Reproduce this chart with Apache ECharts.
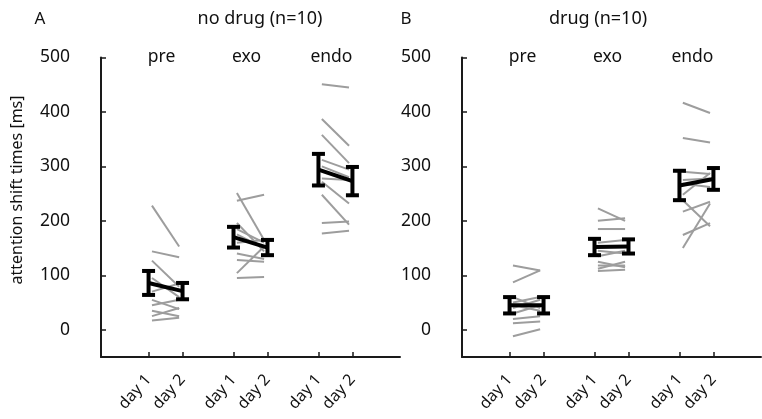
<!DOCTYPE html>
<html>
<head>
<meta charset="utf-8">
<script src="https://cdn.jsdelivr.net/npm/echarts@6/dist/echarts.min.js"></script>
<style>
  html, body { margin: 0; padding: 0; background: #fff; }
  #chart { width: 762px; height: 419px; }
</style>
</head>
<body>
<div id="chart"></div>
<script>
// x positions of the ticks (day 1 / day 2 for each condition)
const xPos = [1, 2, 3.5, 4.5, 6, 7];
const dayLabels = ['day 1', 'day 2', 'day 1', 'day 2', 'day 1', 'day 2'];
const groups = ['pre', 'exo', 'endo'];
const groupX = [1, 3.5, 6];
const yTicks = [0, 100, 200, 300, 400, 500];

// single subjects, no drug (n=10)
const noDrugPre1 = [228, 144, 127, 95, 70, 55, 45, 35, 25, 17];
const noDrugPre2 = [153, 133, 79, 60, 85, 38, 55, 25, 40, 22];
const noDrugExo1 = [251, 237, 196, 185, 175, 160, 140, 128, 104, 95];
const noDrugExo2 = [165, 248, 144, 160, 150, 165, 130, 125, 153, 97];
const noDrugEndo1 = [451, 387, 358, 312, 300, 278, 272, 248, 196, 177];
const noDrugEndo2 = [445, 338, 306, 294, 280, 275, 232, 193, 199, 182];

// single subjects, drug (n=10)
const drugPre1 = [118, 87, 60, 50, 45, 40, 30, 20, 12, -12];
const drugPre2 = [109, 109, 40, 60, 35, 55, 45, 25, 15, 1];
const drugExo1 = [223, 200, 185, 160, 145, 135, 125, 118, 112, 108];
const drugExo2 = [200, 205, 185, 165, 140, 145, 115, 118, 125, 110];
const drugEndo1 = [417, 352, 290, 275, 268, 248, 238, 217, 174, 150];
const drugEndo2 = [398, 344, 286, 278, 262, 288, 190, 235, 196, 232];

// group means and error bars, in xPos order
const noDrugMean = [86, 71, 170, 151, 294, 273];
const noDrugErr = [22, 15, 19, 14, 29, 26];
const drugMean = [45, 45, 152, 153, 265, 277];
const drugErr = [15, 15, 15, 13, 27, 20];

const FONT = 'Noto Sans';
const TXT = '#111';

function pairs(gx, a, b) {
  return a.map((v, i) => [gx, v, b[i]]);
}
function subjectData(pre1, pre2, exo1, exo2, endo1, endo2) {
  return [].concat(
    pairs(groupX[0], pre1, pre2),
    pairs(groupX[1], exo1, exo2),
    pairs(groupX[2], endo1, endo2)
  );
}

function xAxis(idx) {
  return {
    type: 'value', gridIndex: idx, min: -0.4, max: 8.4,
    splitLine: { show: false },
    axisLine: { onZero: false, lineStyle: { color: '#1a1a1a', width: 2 } },
    axisTick: { inside: true, length: 5, customValues: xPos, lineStyle: { color: '#1a1a1a', width: 1.5 } },
    axisLabel: {
      customValues: xPos, rotate: 48, margin: 20,
      fontFamily: FONT, fontSize: 16, color: TXT,
      formatter: v => dayLabels[xPos.indexOf(v)]
    }
  };
}
function yAxis(idx) {
  return {
    type: 'value', gridIndex: idx, min: -50, max: 500,
    splitLine: { show: false },
    axisLine: { show: true, onZero: false, lineStyle: { color: '#1a1a1a', width: 2 } },
    axisTick: { show: true, inside: true, length: 5, customValues: yTicks, lineStyle: { color: '#1a1a1a', width: 1.5 } },
    axisLabel: { customValues: yTicks, margin: 31, fontFamily: FONT, fontSize: 17.5, color: TXT }
  };
}

function greySeries(idx, data) {
  return {
    type: 'custom', xAxisIndex: idx, yAxisIndex: idx, silent: true,
    data: data, encode: { x: 0, y: [1, 2] },
    renderItem: (params, api) => {
      const p1 = api.coord([api.value(0) + 0.1, api.value(1)]);
      const p2 = api.coord([api.value(0) + 0.9, api.value(2)]);
      return {
        type: 'line',
        shape: { x1: p1[0], y1: p1[1], x2: p2[0], y2: p2[1] },
        style: { stroke: '#9d9d9d', lineWidth: 2 }
      };
    }
  };
}
function meanLineSeries(idx, mean) {
  const data = groupX.map((gx, g) => [gx, mean[2 * g], mean[2 * g + 1]]);
  return {
    type: 'custom', xAxisIndex: idx, yAxisIndex: idx, silent: true,
    data: data, encode: { x: 0, y: [1, 2] },
    renderItem: (params, api) => {
      const p1 = api.coord([api.value(0), api.value(1)]);
      const p2 = api.coord([api.value(0) + 1, api.value(2)]);
      return {
        type: 'line',
        shape: { x1: p1[0], y1: p1[1], x2: p2[0], y2: p2[1] },
        style: { stroke: '#000', lineWidth: 4 }
      };
    }
  };
}
function errorSeries(idx, mean, err) {
  const data = xPos.map((x, i) => [x, mean[i] - err[i], mean[i] + err[i]]);
  return {
    type: 'custom', xAxisIndex: idx, yAxisIndex: idx, silent: true,
    data: data, encode: { x: 0, y: [1, 2] },
    renderItem: (params, api) => {
      const lo = api.coord([api.value(0), api.value(1)]);
      const hi = api.coord([api.value(0), api.value(2)]);
      const w = 6.5;
      const st = { stroke: '#000', lineWidth: 4 };
      return {
        type: 'group',
        children: [
          { type: 'line', shape: { x1: lo[0], y1: lo[1], x2: hi[0], y2: hi[1] }, style: st },
          { type: 'line', shape: { x1: lo[0] - w, y1: lo[1], x2: lo[0] + w, y2: lo[1] }, style: st },
          { type: 'line', shape: { x1: hi[0] - w, y1: hi[1], x2: hi[0] + w, y2: hi[1] }, style: st }
        ]
      };
    }
  };
}

function label(text, x, y, size, rot) {
  return {
    type: 'text', x: x, y: y, rotation: rot || 0,
    style: { text: text, fontFamily: FONT, fontSize: size, fill: TXT, align: 'center', verticalAlign: 'middle' }
  };
}

const chart = echarts.init(document.getElementById('chart'));
const gridLeft = [101, 462];
const graphics = [
  label('A', 40, 19, 17),
  label('no drug (n=10)', 260, 19, 18),
  label('B', 406, 19, 17),
  label('drug (n=10)', 598, 19, 18),
  label('attention shift times [ms]', 17, 190, 16, Math.PI / 2)
];
gridLeft.forEach((gl, p) => {
  groupX.forEach((gx, g) => {
    const px = gl + (gx + 0.5 + 0.4) / 8.8 * 299 - 4;
    graphics.push(label(groups[g], px, 57, 17.5));
  });
});

chart.setOption({
  animation: false,
  grid: [
    { left: gridLeft[0], top: 57.5, width: 299, height: 299.5 },
    { left: gridLeft[1], top: 57.5, width: 299, height: 299.5 }
  ],
  xAxis: [xAxis(0), xAxis(1)],
  yAxis: [yAxis(0), yAxis(1)],
  graphic: graphics,
  series: [
    greySeries(0, subjectData(noDrugPre1, noDrugPre2, noDrugExo1, noDrugExo2, noDrugEndo1, noDrugEndo2)),
    meanLineSeries(0, noDrugMean),
    errorSeries(0, noDrugMean, noDrugErr),
    greySeries(1, subjectData(drugPre1, drugPre2, drugExo1, drugExo2, drugEndo1, drugEndo2)),
    meanLineSeries(1, drugMean),
    errorSeries(1, drugMean, drugErr)
  ]
});
</script>
</body>
</html>
